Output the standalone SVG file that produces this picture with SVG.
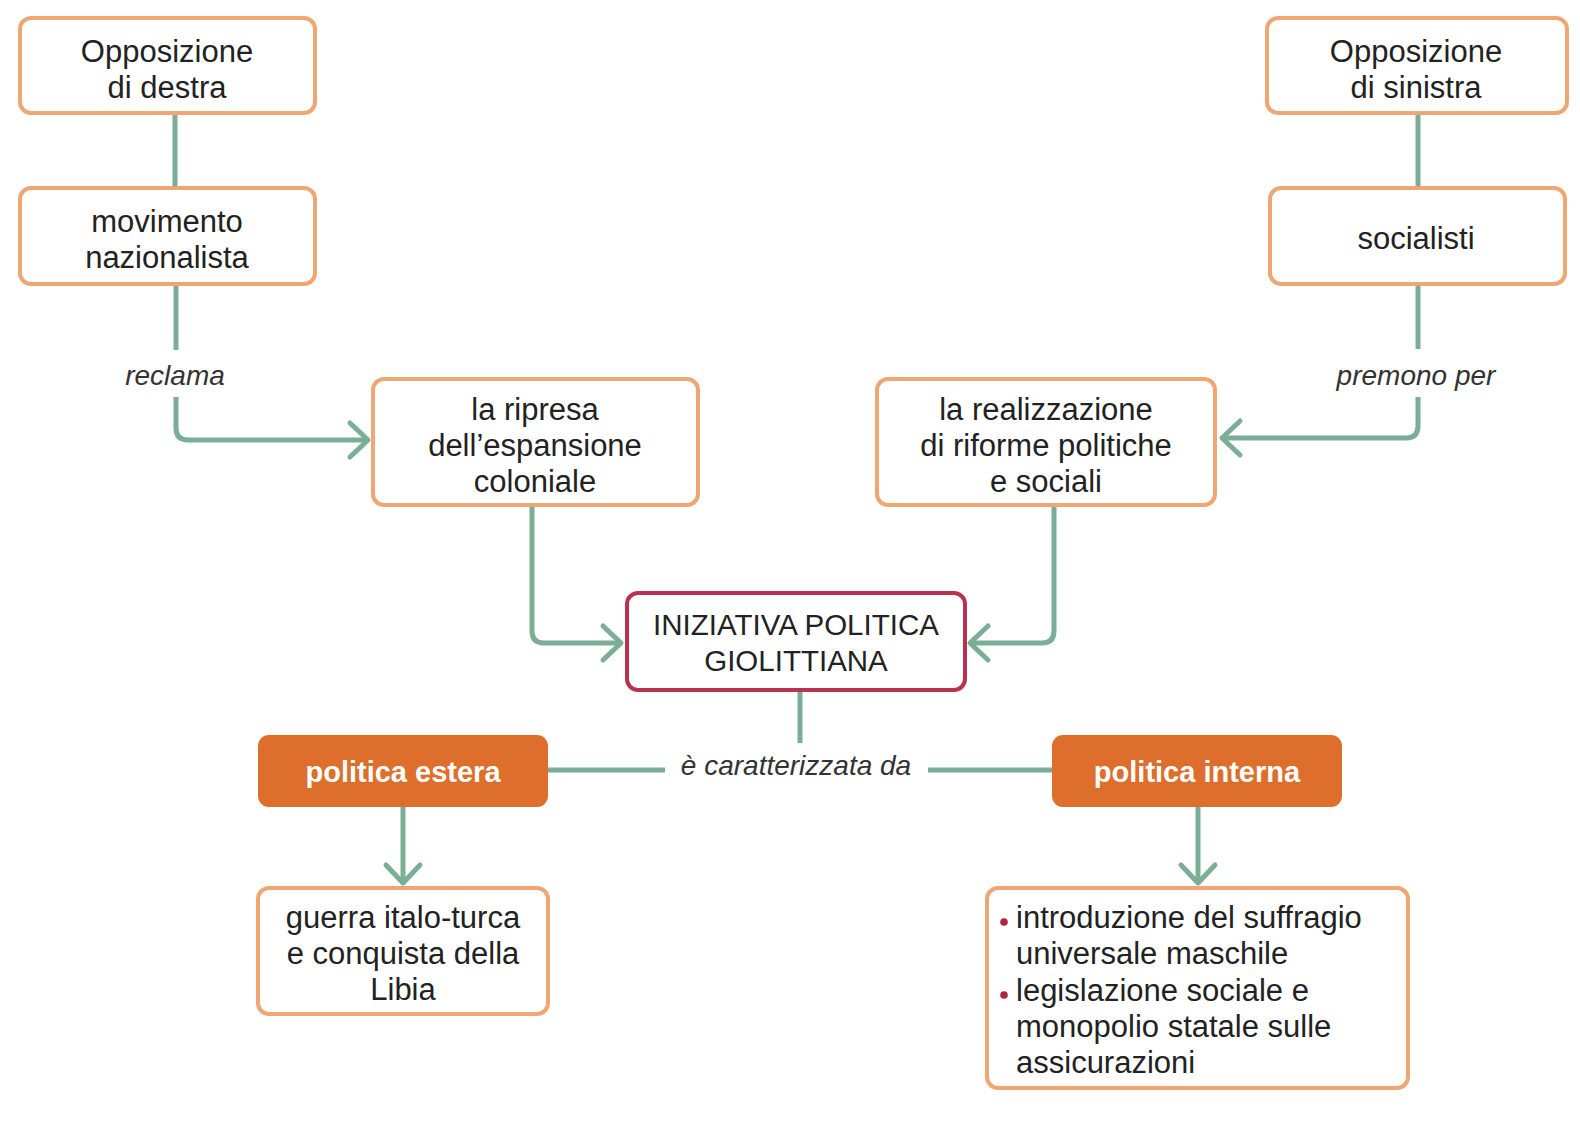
<svg xmlns="http://www.w3.org/2000/svg" width="1580" height="1124" viewBox="0 0 1580 1124">
<defs>
<style>
.box{fill:#fff;stroke:#f0a672;stroke-width:4}
.main{fill:#fff;stroke:#b8324f;stroke-width:4}
.fill{fill:#dd6e2b;stroke:none}
.t{font-family:"Liberation Sans",Arial,sans-serif;font-size:31px;fill:#222;text-anchor:middle}
.tm{font-family:"Liberation Sans",Arial,sans-serif;font-size:29.5px;fill:#222;text-anchor:middle}
.tb{font-family:"Liberation Sans",Arial,sans-serif;font-size:29px;font-weight:bold;fill:#fff;text-anchor:middle}
.tl{font-family:"Liberation Sans",Arial,sans-serif;font-size:31px;fill:#222}
.lab{font-family:"Liberation Sans",Arial,sans-serif;font-size:28px;font-style:italic;fill:#333;text-anchor:middle}
.c{fill:none;stroke:#7aae96;stroke-width:5;stroke-linejoin:round}
.bul{fill:#b0263f}
</style>
<marker id="arr" markerUnits="userSpaceOnUse" viewBox="-24 -24 28 48" markerWidth="28" markerHeight="48" refX="0" refY="0" orient="auto">
<path d="M-18,-17 L0,0 L-18,17" fill="none" stroke="#7aae96" stroke-width="5" stroke-linecap="round" stroke-linejoin="round"/>
</marker>
</defs>
<rect width="1580" height="1124" fill="#fff"/>

<g id="connectors">
<path class="c" d="M175,113 V188"/>
<path class="c" d="M176,284 V350"/>
<path class="c" d="M176,397 V428 Q176,440 188,440 H368" marker-end="url(#arr)"/>
<path class="c" d="M1418,113 V188"/>
<path class="c" d="M1418,283 V349"/>
<path class="c" d="M1418,397 V426 Q1418,438 1406,438 H1222" marker-end="url(#arr)"/>
<path class="c" d="M532,506 V631 Q532,643 544,643 H621" marker-end="url(#arr)"/>
<path class="c" d="M1054,506 V631 Q1054,643 1042,643 H970" marker-end="url(#arr)"/>
<path class="c" d="M800,692 V743"/>
<path class="c" d="M548,770 H665"/>
<path class="c" d="M928,770 H1052"/>
<path class="c" d="M403,807 V883" marker-end="url(#arr)"/>
<path class="c" d="M1198,807 V883" marker-end="url(#arr)"/>
<text class="lab" x="175" y="385">reclama</text>
<text class="lab" x="1416" y="385">premono per</text>
<text class="lab" x="796" y="775">è caratterizzata da</text>
</g>

<g id="opp-destra">
<rect class="box" x="20" y="18" width="295" height="95" rx="11"/>
<text class="t" x="167" y="62">Opposizione</text>
<text class="t" x="167" y="98">di destra</text>
</g>

<g id="movimento-nazionalista">
<rect class="box" x="20" y="188" width="295" height="96" rx="11"/>
<text class="t" x="167" y="232">movimento</text>
<text class="t" x="167" y="268">nazionalista</text>
</g>

<g id="opp-sinistra">
<rect class="box" x="1267" y="18" width="300" height="95" rx="11"/>
<text class="t" x="1416" y="62">Opposizione</text>
<text class="t" x="1416" y="98">di sinistra</text>
</g>

<g id="socialisti">
<rect class="box" x="1270" y="188" width="295" height="96" rx="11"/>
<text class="t" x="1416" y="249">socialisti</text>
</g>

<g id="ripresa">
<rect class="box" x="373" y="379" width="325" height="126" rx="11"/>
<text class="t" x="535" y="420">la ripresa</text>
<text class="t" x="535" y="456">dell’espansione</text>
<text class="t" x="535" y="492">coloniale</text>
</g>

<g id="riforme">
<rect class="box" x="877" y="379" width="338" height="126" rx="11"/>
<text class="t" x="1046" y="420">la realizzazione</text>
<text class="t" x="1046" y="456">di riforme politiche</text>
<text class="t" x="1046" y="492">e sociali</text>
</g>

<g id="iniziativa">
<rect class="main" x="627" y="593" width="338" height="97" rx="11"/>
<text class="tm" x="796" y="635">INIZIATIVA POLITICA</text>
<text class="tm" x="796" y="671">GIOLITTIANA</text>
</g>

<g id="politica-estera">
<rect class="fill" x="258" y="735" width="290" height="72" rx="11"/>
<text class="tb" x="403" y="782">politica estera</text>
</g>

<g id="politica-interna">
<rect class="fill" x="1052" y="735" width="290" height="72" rx="11"/>
<text class="tb" x="1197" y="782">politica interna</text>
</g>

<g id="guerra">
<rect class="box" x="258" y="888" width="290" height="126" rx="11"/>
<text class="t" x="403" y="928">guerra italo-turca</text>
<text class="t" x="403" y="964">e conquista della</text>
<text class="t" x="403" y="1000">Libia</text>
</g>

<g id="riforme-interne">
<rect class="box" x="987" y="888" width="421" height="200" rx="11"/>
<circle class="bul" cx="1004" cy="922" r="3.8"/>
<circle class="bul" cx="1004" cy="995" r="3.8"/>
<text class="tl" x="1016" y="928">introduzione del suffragio</text>
<text class="tl" x="1016" y="964">universale maschile</text>
<text class="tl" x="1016" y="1001">legislazione sociale e</text>
<text class="tl" x="1016" y="1037">monopolio statale sulle</text>
<text class="tl" x="1016" y="1073">assicurazioni</text>
</g>
</svg>
